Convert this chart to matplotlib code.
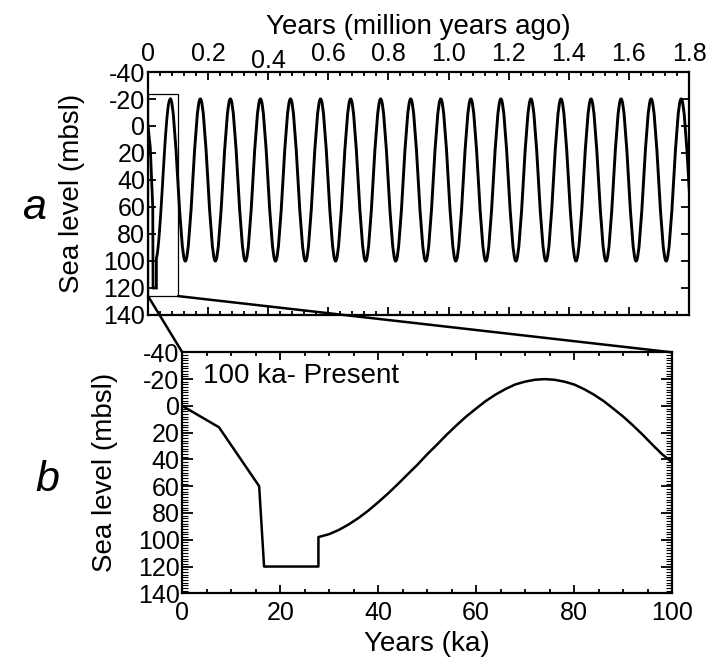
import numpy as np
import matplotlib
matplotlib.use("Agg")
import matplotlib.pyplot as plt
from matplotlib.path import Path
from matplotlib.patches import PathPatch, Rectangle, ConnectionPatch
from matplotlib.ticker import MultipleLocator
import matplotlib.transforms as mtransforms

# panel b: last 100 ka (ka, sea level in mbsl)
recent_ka = [0, 7.5, 15.7, 16.7, 27.8, 27.8, 30, 32, 34, 36, 38, 40, 42, 44,
             46, 48, 50, 52, 54, 56, 58, 60, 62, 64, 66, 68, 70, 72, 74,
             76, 78, 80, 82, 84, 86, 88, 90, 92, 94, 96, 98, 100]
recent_sl = [0, 16, 60, 120, 120, 98, 95.8, 92.6, 88.5, 83.7, 78.2, 72, 65.5,
             58.5, 51.2, 44, 36.2, 29, 21.5, 14.5, 7.9, 2, -3.7, -8.5, -12.6,
             -16, -18.1, -19.5, -20, -19.5, -18.1, -16, -12.6, -8.5, -3.7, 2,
             7.9, 14.5, 21.5, 29, 36.2, 42]

# panel a: older glacial cycles, highstands and lowstands (Ma)
peak_ma = [0.074, 0.174, 0.274, 0.374, 0.474, 0.574, 0.674, 0.774, 0.874,
           0.974, 1.074, 1.174, 1.274, 1.374, 1.474, 1.574, 1.674, 1.774]
trough_ma = [0.124, 0.224, 0.324, 0.424, 0.524, 0.624, 0.724, 0.824, 0.924,
             1.024, 1.124, 1.224, 1.324, 1.424, 1.524, 1.624, 1.724, 1.824]
peak_sl = -20
trough_sl = 100

xticks_a = [0, 0.2, 0.4, 0.6, 0.8, 1.0, 1.2, 1.4, 1.6, 1.8]
xticklabels_a = ['0', '0.2', '0.4', '0.6', '0.8', '1.0', '1.2', '1.4', '1.6', '1.8']

plt.rcParams['font.family'] = ['Liberation Sans', 'DejaVu Sans']
plt.rcParams['font.size'] = 18
plt.rcParams['axes.unicode_minus'] = False

fig = plt.figure(figsize=(7.09, 6.63), dpi=100)
ax_a = fig.add_axes([0.2088, 0.5249, 0.763, 0.3665])
ax_b = fig.add_axes([0.2571, 0.1051, 0.6907, 0.3635])

for ax in (ax_a, ax_b):
    for s in ax.spines.values():
        s.set_linewidth(1.6)
    ax.set_ylim(140, -40)
    ax.yaxis.set_major_locator(MultipleLocator(20))
    ax.tick_params(which='both', direction='in', top=True, right=True,
                   width=1.3, colors='black')

# ---- panel a
n_recent = recent_ka.index(74) + 1
ax_a.plot(np.array(recent_ka[:n_recent]) / 1000.0, recent_sl[:n_recent],
          color='black', lw=2.0, solid_joinstyle='miter')

ext = sorted([(t, peak_sl) for t in peak_ma] + [(t, trough_sl) for t in trough_ma])
verts = [ext[0]]
codes = [Path.MOVETO]
k = 0.364
for (x0, y0), (x1, y1) in zip(ext[:-1], ext[1:]):
    dx = x1 - x0
    verts += [(x0 + k * dx, y0), (x1 - k * dx, y1), (x1, y1)]
    codes += [Path.CURVE4] * 3
ax_a.add_patch(PathPatch(Path(verts, codes), facecolor='none',
                         edgecolor='black', lw=2.1))

ax_a.add_patch(Rectangle((0, -24), 0.1, 150, fill=False, edgecolor='black', lw=0.9))

ax_a.set_xlim(0, 1.8)
ax_a.set_xticks(xticks_a)
ax_a.set_xticklabels(xticklabels_a)
ax_a.xaxis.set_minor_locator(MultipleLocator(0.04))
ax_a.tick_params(axis='x', labeltop=True, labelbottom=False, pad=4)
ax_a.tick_params(axis='x', which='major', length=6)
ax_a.tick_params(axis='x', which='minor', length=3)
ax_a.tick_params(axis='y', which='major', length=6, pad=2)
ax_a.xaxis.set_label_position('top')
ax_a.set_xlabel('Years (million years ago)', fontsize=20, labelpad=6)
ax_a.set_ylabel('Sea level (mbsl)', fontsize=20, labelpad=13)

# "0.4" sits a bit lower in the original
lbl = ax_a.xaxis.get_major_ticks()[2].label2
lbl.set_transform(lbl.get_transform() +
                  mtransforms.ScaledTranslation(0, -7 / 100.0, fig.dpi_scale_trans))

# ---- panel b
ax_b.plot(recent_ka, recent_sl, color='black', lw=1.8)
ax_b.set_xlim(0, 100)
ax_b.xaxis.set_major_locator(MultipleLocator(20))
ax_b.xaxis.set_minor_locator(MultipleLocator(5))
ax_b.yaxis.set_minor_locator(MultipleLocator(2))
ax_b.tick_params(axis='x', which='major', length=6, pad=5.5)
ax_b.tick_params(axis='x', which='minor', length=3)
ax_b.tick_params(axis='y', which='major', length=8, pad=2)
ax_b.tick_params(axis='y', which='minor', length=4, width=0.8)
ax_b.set_xlabel('Years (ka)', fontsize=20, labelpad=4)
ax_b.set_ylabel('Sea level (mbsl)', fontsize=20, labelpad=14)
ax_b.text(4.2, -22, '100 ka- Present', va='center', ha='left', fontsize=20)

# zoom connectors
for xa, xb in ((0, 0), (0.1, 100)):
    con = ConnectionPatch(xyA=(xa, 126), coordsA=ax_a.transData,
                          xyB=(xb, -40), coordsB=ax_b.transData,
                          color='black', lw=1.8)
    fig.add_artist(con)

fig.text(34 / 709, 1 - 208 / 663, 'a', fontsize=31, style='italic',
         ha='center', va='center')
fig.text(47 / 709, 1 - 480 / 663, 'b', fontsize=31, style='italic',
         ha='center', va='center')

fig.savefig('out.png', dpi=100)
